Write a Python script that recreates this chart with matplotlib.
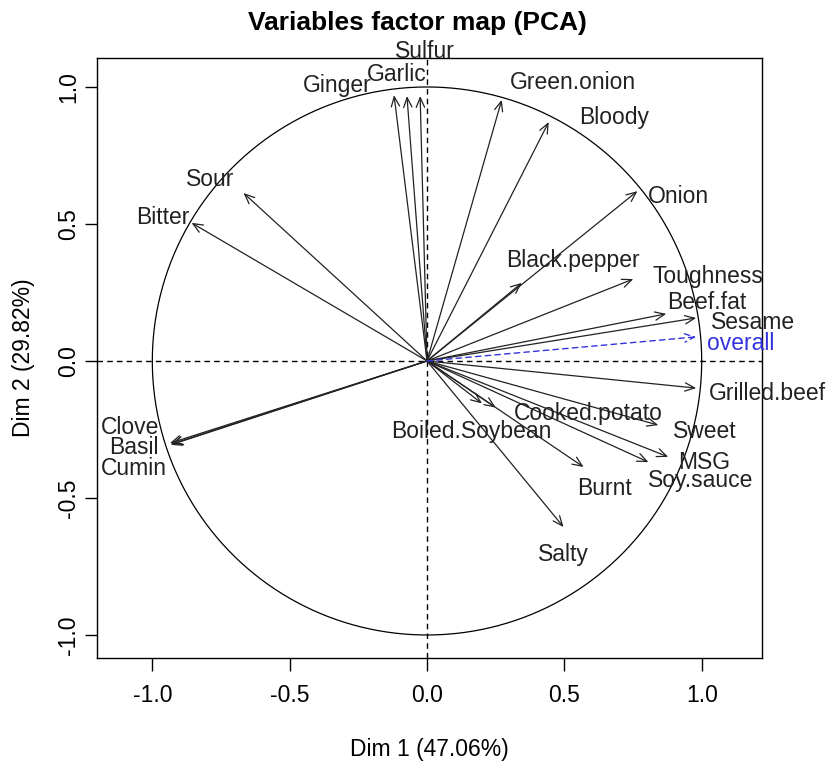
import numpy as np
import matplotlib
matplotlib.use("Agg")
import matplotlib.pyplot as plt

plt.rcParams['font.family'] = ['Liberation Sans', 'DejaVu Sans']

# variable coordinates (Dim 1, Dim 2)
variables = ['Sulfur', 'Garlic', 'Ginger', 'Green.onion', 'Bloody', 'Onion',
             'Sour', 'Bitter', 'Black.pepper', 'Toughness', 'Beef.fat', 'Sesame',
             'Grilled.beef', 'Cooked.potato', 'Boiled.Soybean', 'Sweet', 'MSG',
             'Soy.sauce', 'Burnt', 'Salty', 'Clove', 'Basil', 'Cumin']
dim1 = [-0.025, -0.073, -0.12, 0.272, 0.443, 0.766,
        -0.668, -0.857, 0.345, 0.751, 0.871, 0.98,
        0.98, 0.25, 0.2, 0.842, 0.878,
        0.806, 0.57, 0.497, -0.936, -0.93, -0.933]
dim2 = [0.967, 0.967, 0.97, 0.953, 0.872, 0.62,
        0.613, 0.504, 0.285, 0.299, 0.172, 0.157,
        -0.099, -0.17, -0.155, -0.234, -0.35,
        -0.369, -0.387, -0.606, -0.30, -0.303, -0.306]

# supplementary variable
sup_name = 'overall'
sup_dim1 = 0.98
sup_dim2 = 0.088

# label anchor points (data units), as placed by the repel routine
label_x = [-0.007, -0.109, -0.327, 0.530, 0.682, 0.914,
           -0.788, -0.962, 0.530, 1.024, 1.020, 1.187,
           1.238, 0.588, 0.160, 1.013, 1.009,
           0.998, 0.646, 0.497, -1.082, -1.067, -1.067]
label_y = [1.128, 1.044, 1.007, 1.015, 0.887, 0.599,
           0.664, 0.522, 0.365, 0.310, 0.212, 0.142,
           -0.117, -0.190, -0.259, -0.259, -0.372,
           -0.438, -0.464, -0.708, -0.241, -0.317, -0.394]
sup_label = (1.143, 0.062)

fig = plt.figure(figsize=(8.34, 7.65), dpi=100)
ax = fig.add_axes([0.1163, 0.1399, 0.7974, 0.7843])

ax.set_xlim(-1.2014, 1.2196)
ax.set_ylim(-1.0839, 1.1058)

t = np.linspace(0, 2 * np.pi, 400)
ax.plot(np.cos(t), np.sin(t), color='black', lw=0.9)
ax.axhline(0, color='black', lw=1, ls=(0, (4, 3)))
ax.axvline(0, color='black', lw=1, ls=(0, (4, 3)))

astyle = '->,head_length=0.7,head_width=0.3'
for name, x, y, lx, ly in zip(variables, dim1, dim2, label_x, label_y):
    ax.annotate('', xy=(x, y), xytext=(0, 0),
                arrowprops=dict(arrowstyle=astyle, color='#222222', lw=0.9,
                                shrinkA=0, shrinkB=0))
    ax.text(lx, ly, name, ha='center', va='center', fontsize=16.5,
            color='#222222', clip_on=False)

ax.annotate('', xy=(sup_dim1, sup_dim2), xytext=(0, 0),
            arrowprops=dict(arrowstyle=astyle, color='#3333dd', lw=1,
                            ls=(0, (4, 3)), shrinkA=0, shrinkB=0))
ax.text(sup_label[0], sup_label[1], sup_name, ha='center', va='center',
        fontsize=16.5, color='#3333dd')

ax.set_xticks([-1.0, -0.5, 0.0, 0.5, 1.0])
ax.set_yticks([-1.0, -0.5, 0.0, 0.5, 1.0])
ax.set_xticklabels(['-1.0', '-0.5', '0.0', '0.5', '1.0'])
ax.set_yticklabels(['-1.0', '-0.5', '0.0', '0.5', '1.0'], rotation=90, va='center')
ax.tick_params(labelsize=16.5, length=9, width=1)
ax.tick_params(axis='x', pad=10)
ax.tick_params(axis='y', pad=3)
for s in ax.spines.values():
    s.set_linewidth(1)

ax.set_xlabel('Dim 1 (47.06%)', fontsize=16.5, labelpad=22)
ax.set_ylabel('Dim 2 (29.82%)', fontsize=16.5, labelpad=16)
fig.text(0.5, 0.970, 'Variables factor map (PCA)', ha='center', va='center',
         fontsize=19, fontweight='bold')

fig.savefig('out.png', dpi=100)
